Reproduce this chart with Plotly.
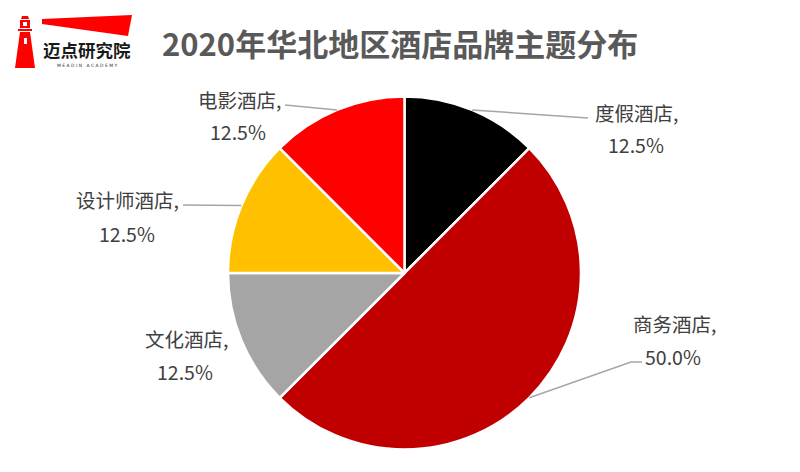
import math
import plotly.graph_objects as go

W, H = 800, 472

# ---- data ----
categories = ["度假酒店", "商务酒店", "文化酒店", "设计师酒店", "电影酒店"]
values = [12.5, 50.0, 12.5, 12.5, 12.5]
colors = ["#000000", "#C00000", "#A5A5A5", "#FFC000", "#FF0000"]
pct_labels = [f"{v:.1f}%" for v in values]

title_text = "2020年华北地区酒店品牌主题分布"

# ---- layout constants (pixels) ----
CX, CY, R = 404.5, 273.0, 176.5
label_pos = {
    "度假酒店": ((636, 112), (636, 145)),
    "商务酒店": ((674, 323), (673, 356)),
    "文化酒店": ((186, 338), (185, 371)),
    "设计师酒店": ((127, 199), (127, 233)),
    "电影酒店": ((239, 99), (238, 132)),
}
leader_end = {
    "度假酒店": [(588, 118)],
    "商务酒店": [(631, 362), (642, 362)],
    "文化酒店": None,
    "设计师酒店": [(183, 205)],
    "电影酒店": [(285, 105)],
}


def px(x):
    return x / W


def py(y):
    return 1 - y / H


fig = go.Figure()
fig.add_trace(go.Pie(
    labels=categories,
    values=values,
    sort=False,
    direction="clockwise",
    rotation=0,
    marker=dict(colors=colors, line=dict(color="white", width=2.5)),
    textinfo="none",
    hoverinfo="label+percent",
    showlegend=False,
    domain=dict(x=[px(CX - R), px(CX + R)], y=[py(CY + R), py(CY - R)]),
))

annotations = []
shapes = []
total = sum(values)
cum = 0.0
lab_font = dict(family="Noto Sans CJK SC, Microsoft YaHei, sans-serif", size=19.5, color="#404040")
for cat, v, pl in zip(categories, values, pct_labels):
    mid = (cum + v / 2) / total * 2 * math.pi
    cum += v
    ex = CX + R * math.sin(mid)
    ey = CY - R * math.cos(mid)
    (n_x, n_y), (p_x, p_y) = label_pos[cat]
    annotations.append(dict(x=px(n_x), y=py(n_y), xref="paper", yref="paper",
                            text=cat + ",", showarrow=False, xanchor="center",
                            yanchor="middle", font=lab_font))
    annotations.append(dict(x=px(p_x), y=py(p_y), xref="paper", yref="paper",
                            text=pl, showarrow=False, xanchor="center",
                            yanchor="middle", font=lab_font))
    ends = leader_end[cat]
    if ends:
        pts = [(ex, ey)] + ends
        path = "M " + " L ".join(f"{px(a):.5f},{py(b):.5f}" for a, b in pts)
        shapes.append(dict(type="path", xref="paper", yref="paper", path=path,
                           line=dict(color="#A6A6A6", width=1.5)))

# title
annotations.append(dict(x=px(400), y=py(43), xref="paper", yref="paper",
                        text="<b>" + title_text + "</b>", showarrow=False,
                        xanchor="center", yanchor="middle",
                        font=dict(family="Noto Sans CJK SC, Microsoft YaHei, sans-serif",
                                  size=31, color="#595959")))

# logo
def poly(points, color):
    path = "M " + " L ".join(f"{px(a):.5f},{py(b):.5f}" for a, b in points) + " Z"
    return dict(type="path", xref="paper", yref="paper", path=path,
                fillcolor=color, line=dict(width=0), layer="above")

shapes.append(poly([(42, 19), (132, 15), (128, 36), (42, 24)], "#FF0000"))
shapes.append(poly([(22, 16), (28, 16), (29, 19), (21, 19)], "#FF0000"))
shapes.append(poly([(20, 20), (30, 20), (30, 28), (20, 28)], "#FF0000"))
shapes.append(poly([(18, 29), (32, 29), (32, 31), (18, 31)], "#FF0000"))
shapes.append(poly([(20, 32), (30, 32), (35, 68), (15, 68)], "#FF0000"))
shapes.append(poly([(23, 22), (27, 22), (27, 26), (23, 26)], "#FFFFFF"))
shapes.append(poly([(24, 38), (27, 38), (27, 44), (24, 44)], "#FFFFFF"))

annotations.append(dict(x=px(87), y=py(50), xref="paper", yref="paper",
                        text="<b>迈点研究院</b>", showarrow=False, xanchor="center",
                        yanchor="middle",
                        font=dict(family="Noto Sans CJK SC, sans-serif", size=17.5, color="#1A1A1A")))
annotations.append(dict(x=px(87), y=py(66), xref="paper", yref="paper",
                        text="M E A D I N   A C A D E M Y", showarrow=False, xanchor="center",
                        yanchor="middle",
                        font=dict(family="DejaVu Sans, sans-serif", size=4.5, color="#333333")))

fig.update_layout(
    width=W, height=H,
    margin=dict(l=0, r=0, t=0, b=0),
    paper_bgcolor="white", plot_bgcolor="white",
    annotations=annotations, shapes=shapes,
    showlegend=False,
)

fig.write_html("out.html")
